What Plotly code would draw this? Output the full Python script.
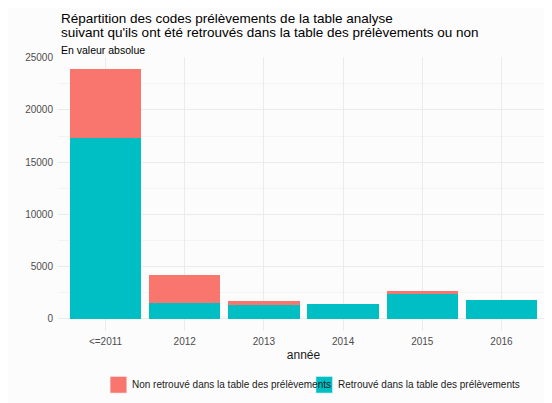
import plotly.graph_objects as go

categories = ["<=2011", "2012", "2013", "2014", "2015", "2016"]
retrouve = [17350, 1480, 1275, 1440, 2400, 1820]
non_retrouve = [6530, 2650, 385, 0, 285, 0]

series_names = ["Non retrouvé dans la table des prélèvements",
                "Retrouvé dans la table des prélèvements"]
colors = ["#F8766D", "#00BFC4"]
yticks = [0, 5000, 10000, 15000, 20000, 25000]
yticktext = ["0", "5000", "10000", "15000", "20000", "25000"]

FONT = "Liberation Sans, Arial, sans-serif"

fig = go.Figure()
fig.add_trace(go.Bar(x=categories, y=retrouve, name=series_names[1],
                     marker=dict(color=colors[1], line=dict(width=0)),
                     width=0.9, showlegend=False))
fig.add_trace(go.Bar(x=categories, y=non_retrouve, name=series_names[0],
                     marker=dict(color=colors[0], line=dict(width=0)),
                     width=0.9, showlegend=False))

totals = [a + b for a, b in zip(retrouve, non_retrouve)]
ymax = max(totals)
yr = [-0.05 * ymax, 1.05 * ymax]

# page body adds an 8px offset; work in page pixels and subtract it
OFF = 8
W, H = 552 - OFF, 403 - OFF
ml, mt = 58 - OFF, 57 - OFF
mr = W - (549.4 - OFF)
mb = H - (330.8 - OFF)
pw = W - ml - mr
ph = H - mt - mb

def px_x(px):
    return (px - OFF - ml) / pw

def px_y(py):
    return (H - mb - (py - OFF)) / ph

fig.update_layout(
    barmode="stack",
    width=W, height=H,
    margin=dict(l=ml, r=mr, t=mt, b=mb),
    paper_bgcolor="#FCFCFC",
    plot_bgcolor="#FCFCFC",
    font=dict(family=FONT, color="#4D4D4D", size=10),
    bargap=0.1,
    xaxis=dict(
        range=[-0.6, 5.6],
        showgrid=True, gridcolor="#EBEBEB", gridwidth=1,
        zeroline=False, showline=False, ticks="",
        tickfont=dict(size=10, color="#4D4D4D"),
        ticklabelstandoff=3,
        title=dict(text="année", font=dict(size=12, color="#1A1A1A"), standoff=4),
    ),
    yaxis=dict(
        range=yr,
        tickmode="array",
        tickvals=yticks,
        ticktext=yticktext,
        showgrid=True, gridcolor="#EBEBEB", gridwidth=1,
        minor=dict(tickvals=[2500, 7500, 12500, 17500, 22500],
                   showgrid=True, gridcolor="#F4F4F4", gridwidth=0.6),
        zeroline=False, showline=False, ticks="",
        tickfont=dict(size=10, color="#4D4D4D"),
        ticklabelstandoff=4,
    ),
)

# Titles
fig.add_annotation(text="Répartition des codes prélèvements de la table analyse",
                   xref="paper", yref="paper", x=px_x(59), y=px_y(9),
                   xanchor="left", yanchor="top", showarrow=False,
                   font=dict(size=13.5, color="#000000", family=FONT))
fig.add_annotation(text="suivant qu'ils ont été retrouvés dans la table des prélèvements ou non",
                   xref="paper", yref="paper", x=px_x(59), y=px_y(23.5),
                   xanchor="left", yanchor="top", showarrow=False,
                   font=dict(size=13.5, color="#000000", family=FONT))
fig.add_annotation(text="En valeur absolue",
                   xref="paper", yref="paper", x=px_x(59), y=px_y(42),
                   xanchor="left", yanchor="top", showarrow=False,
                   font=dict(size=10.5, color="#000000", family=FONT))

# Legend (drawn manually to mimic ggplot keys)
leg_items = [(110, 130, 0), (316, 336, 1)]
for sx, tx, i in leg_items:
    fig.add_shape(type="rect", xref="paper", yref="paper",
                  x0=px_x(sx), x1=px_x(sx + 17), y0=px_y(393), y1=px_y(376),
                  fillcolor=colors[i], line=dict(width=0.8, color="#FFFFFF"))
    fig.add_annotation(text=series_names[i], xref="paper", yref="paper",
                       x=px_x(tx), y=px_y(384.5), xanchor="left", yanchor="middle",
                       showarrow=False,
                       font=dict(size=10, color="#1A1A1A", family=FONT))

fig.write_html("out.html")
